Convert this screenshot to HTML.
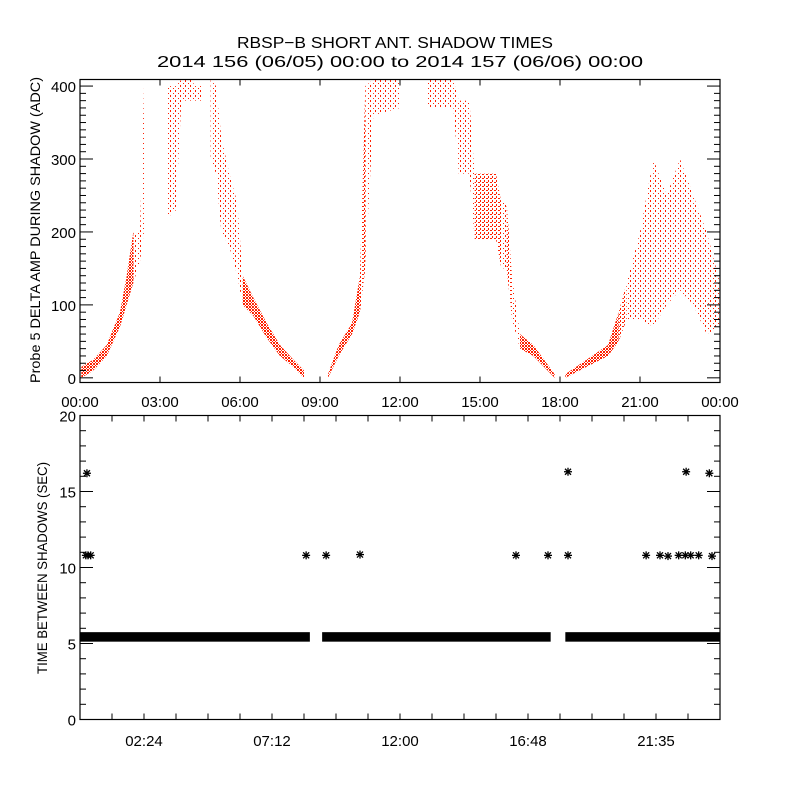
<!DOCTYPE html>
<html><head><meta charset="utf-8"><style>
html,body{margin:0;padding:0;background:#fff}
svg text{font-family:"Liberation Sans",sans-serif;fill:#000}
</style></head><body>
<svg id="chart" width="800" height="800" viewBox="0 0 800 800" xmlns="http://www.w3.org/2000/svg">
<defs>
<pattern id="dense" width="3" height="3" patternUnits="userSpaceOnUse"><rect width="2" height="2" fill="#ff2000"/><rect x="2" y="2" width="1" height="1" fill="#ff2000"/></pattern>
<pattern id="medium" width="4" height="4" patternUnits="userSpaceOnUse"><rect width="1" height="2" fill="#ff2000"/><rect x="2" y="2" width="2" height="1" fill="#ff2000"/></pattern>
<pattern id="sparse" width="5" height="5" patternUnits="userSpaceOnUse"><rect width="1" height="2" fill="#ff2000"/><rect x="3" y="3" width="1" height="1" fill="#ff2000"/></pattern>
</defs>
<rect width="800" height="800" fill="#fff"/>
<text x="237" y="48" font-size="16" textLength="316" lengthAdjust="spacingAndGlyphs">RBSP−B SHORT ANT. SHADOW TIMES</text>
<text x="157" y="67" font-size="16" textLength="486" lengthAdjust="spacingAndGlyphs">2014 156 (06/05) 00:00 to 2014 157 (06/06) 00:00</text>
<g id="topPanel"></g>
<g id="botPanel"></g>
<text transform="translate(40,230) rotate(-90)" text-anchor="middle" font-size="14" textLength="306" lengthAdjust="spacingAndGlyphs">Probe 5 DELTA AMP DURING SHADOW (ADC)</text>
<text transform="translate(47,568) rotate(-90)" text-anchor="middle" font-size="14" textLength="212" lengthAdjust="spacingAndGlyphs">TIME BETWEEN SHADOWS (SEC)</text>
</svg>
<script>
const pass1Hours = [0.05,0.5,1.0,1.5,1.75,2.0,2.25,2.4];
const pass1Low   = [0,10,30,70,100,130,160,200];
const pass1High  = [15,25,45,90,140,200,200,400];
const pass1Dense = [1,1,1,1,1,0,0,0];
const pass2Hours = [3.3,3.6,3.8,4.2,4.3,4.6];
const pass2Low   = [220,230,380,380,380,380];
const pass2High  = [400,400,410,410,400,400];
const pass2Dense = [0,0,0,0,0,0];
const pass3Hours = [4.9,5.1,5.3,5.6,5.9,6.1,6.5,7.0,7.5,8.0,8.4];
const pass3Low   = [300,280,200,180,140,100,85,55,30,15,0];
const pass3High  = [410,400,330,280,240,140,110,75,45,25,10];
const pass3Dense = [0,0,0,0,0,1,1,1,1,1,1];
const pass4Hours = [9.3,9.7,10.2,10.5,10.7,11.0,12.0];
const pass4Low   = [0,30,60,90,150,360,370];
const pass4High  = [5,45,75,140,400,410,410];
const pass4Dense = [1,1,1,2,0,0,0];
const pass5Hours = [13.0,14.0,14.2,14.6,14.8,15.6,15.8,16.0,16.2,16.5,17.0,17.4,17.8];
const pass5Low   = [370,370,280,280,190,190,150,150,80,40,30,15,0];
const pass5High  = [410,410,380,380,280,280,240,240,140,60,45,25,5];
const pass5Dense = [0,0,0,0,2,2,0,2,0,1,1,1,1];
const pass6Hours = [18.2,19.0,19.8,20.2,20.5,21.0,21.5,22.0,22.5,23.0,23.5,24.0];
const pass6Low   = [0,15,30,50,80,80,70,100,120,100,60,70];
const pass6High  = [5,25,45,90,130,200,300,250,300,250,200,130];
const pass6Dense = [1,1,1,2,0,0,0,0,0,0,0,0];
const topYTicks = [0,100,200,300,400];
const topXLabels = ["00:00","03:00","06:00","09:00","12:00","15:00","18:00","21:00","00:00"];
const topXTickHours = [0,3,6,9,12,15,18,21,24];

const bandStartHours = [0.0, 9.08, 18.2];
const bandEndHours   = [8.62, 17.65, 24.0];
const bandValue = [5.45, 5.45, 5.45];
const outlierHours  = [0.26,0.22,0.3,0.4,8.48,9.23,10.5,16.35,17.55,18.3,18.3,21.23,21.75,22.05,22.45,22.7,22.9,23.2,22.73,23.6,23.7];
const outlierValues = [16.2,10.8,10.8,10.8,10.8,10.8,10.85,10.8,10.8,10.8,16.3,10.8,10.8,10.75,10.8,10.8,10.8,10.8,16.3,16.2,10.75];
const botYTicks = [0,5,10,15,20];
const botXLabels = ["02:24","07:12","12:00","16:48","21:35"];
const botXLabelHours = [2.4,7.2,12.0,16.8,21.6];

const NS="http://www.w3.org/2000/svg";
function mk(parent,tag,attrs){const e=document.createElementNS(NS,tag);for(const k in attrs)e.setAttribute(k,attrs[k]);parent.appendChild(e);return e;}
const L=80,R=720;
const xT=h=>L+(R-L)*h/24;
const TT=79.5,TB=382.5,yTmin=-6.4,yTmax=409;
const yT=v=>TB-(v-yTmin)/(yTmax-yTmin)*(TB-TT);
const BT=415.5,BB=719.5;
const yB=v=>BB-v/20*(BB-BT);
const fills=['url(#sparse)','url(#dense)','url(#medium)'];

const topG=document.getElementById('topPanel');
const passes=[[pass1Hours,pass1Low,pass1High,pass1Dense],[pass2Hours,pass2Low,pass2High,pass2Dense],[pass3Hours,pass3Low,pass3High,pass3Dense],[pass4Hours,pass4Low,pass4High,pass4Dense],[pass5Hours,pass5Low,pass5High,pass5Dense],[pass6Hours,pass6Low,pass6High,pass6Dense]];
passes.forEach(p=>{
  const [hs,lo,hi,dn]=p;
  for(let i=0;i<hs.length-1;i++){
    const pts=[[xT(hs[i]),yT(Math.min(hi[i],yTmax))],[xT(hs[i+1]),yT(Math.min(hi[i+1],yTmax))],[xT(hs[i+1]),yT(lo[i+1])],[xT(hs[i]),yT(lo[i])]];
    const e=mk(topG,'polygon',{points:pts.map(q=>q.join(',')).join(' '),fill:fills[dn[i]]});
    
    
  }
});
function axes(g,T,B,name){
  const f=mk(g,'rect',{x:L,y:T,width:R-L,height:B-T,fill:'none',stroke:'#000','stroke-width':1.2});
  
  
}
axes(topG,TT,TB,'top-plot');
for(let v=0;v<=400;v+=10){
  const y=yT(v),len=(v%100===0)?13:6;
  mk(topG,'line',{x1:L,x2:L+len,y1:y,y2:y,stroke:'#000'});
  mk(topG,'line',{x1:R,x2:R-len,y1:y,y2:y,stroke:'#000'});
}
topYTicks.forEach(v=>{
  const t=mk(topG,'text',{x:L-4,y:yT(v)+6,'text-anchor':'end','font-size':15});
  t.textContent=v;
  
  
});
topXTickHours.forEach((h,i)=>{
  const x=xT(h);
  mk(topG,'line',{x1:x,x2:x,y1:TB,y2:TB-6,stroke:'#000'});
  mk(topG,'line',{x1:x,x2:x,y1:TT,y2:TT+6,stroke:'#000'});
  const t=mk(topG,'text',{x:x,y:407,'text-anchor':'middle','font-size':15});
  t.textContent=topXLabels[i];
  
  
});

const botG=document.getElementById('botPanel');
bandStartHours.forEach((s,i)=>{
  const y=yB(bandValue[i]);
  const e=mk(botG,'rect',{x:xT(s),y:y-4.5,width:xT(bandEndHours[i])-xT(s),height:9.5,fill:'#000'});
  
  
});
outlierHours.forEach((h,i)=>{
  const x=xT(h),y=yB(outlierValues[i]);
  const g=mk(botG,'g',{stroke:'#000','stroke-width':1.3});
  
  
  mk(g,'line',{x1:x-4,x2:x+4,y1:y,y2:y});
  mk(g,'line',{x1:x,x2:x,y1:y-4,y2:y+4});
  mk(g,'line',{x1:x-3,x2:x+3,y1:y-3,y2:y+3});
  mk(g,'line',{x1:x-3,x2:x+3,y1:y+3,y2:y-3});
});
axes(botG,BT,BB,'bottom-plot');
for(let v=0;v<=20;v+=1){
  const y=yB(v),len=(v%5===0)?13:6;
  mk(botG,'line',{x1:L,x2:L+len,y1:y,y2:y,stroke:'#000'});
  mk(botG,'line',{x1:R,x2:R-len,y1:y,y2:y,stroke:'#000'});
}
botYTicks.forEach(v=>{
  const t=mk(botG,'text',{x:L-4,y:yB(v)+6,'text-anchor':'end','font-size':15});
  t.textContent=v;
  
  
});
for(let h=0;h<=24.01;h+=1.2){
  const x=xT(h);
  mk(botG,'line',{x1:x,x2:x,y1:BB,y2:BB-6,stroke:'#000'});
  mk(botG,'line',{x1:x,x2:x,y1:BT,y2:BT+6,stroke:'#000'});
}
botXLabelHours.forEach((h,i)=>{
  const t=mk(botG,'text',{x:xT(h),y:746,'text-anchor':'middle','font-size':15});
  t.textContent=botXLabels[i];
  
  
});
</script>
</body></html>
